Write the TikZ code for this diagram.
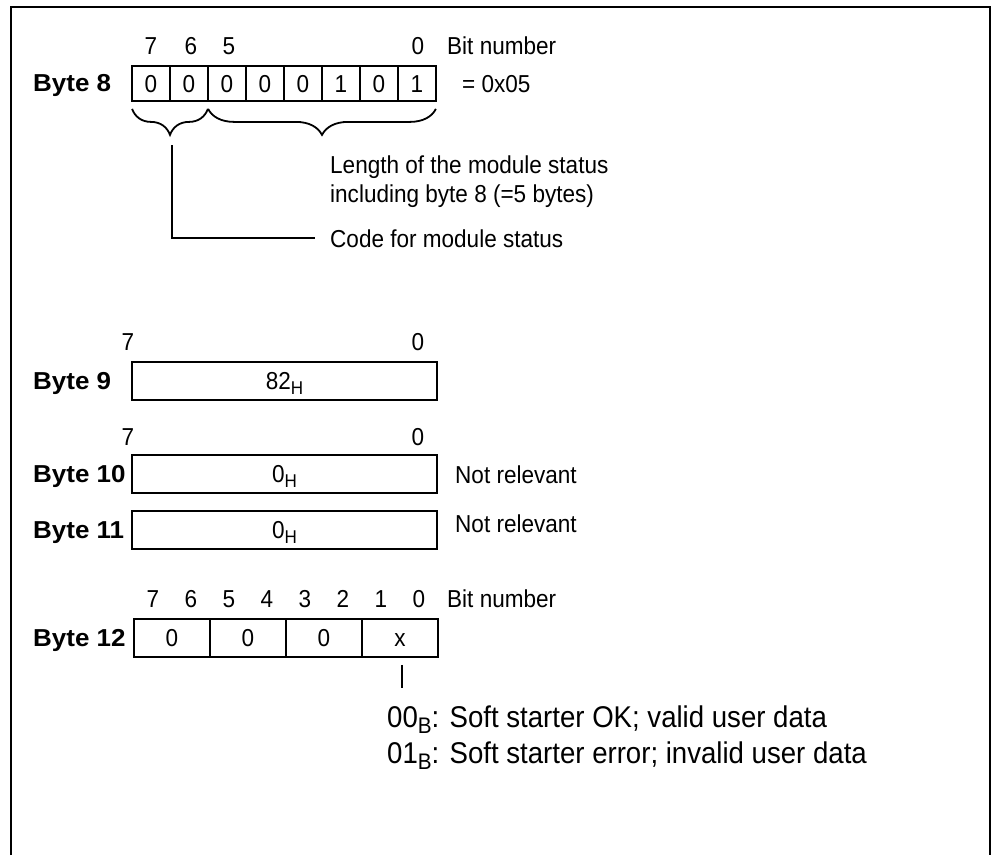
\documentclass[tikz,border=0pt]{standalone}
\usepackage{fontspec}
\setmainfont{Liberation Sans}[FakeStretch=0.92, BoldFeatures={FakeStretch=1.06}]
\usetikzlibrary{decorations.pathreplacing}
\newcommand\subsmall[1]{\raisebox{-5pt}{\fontsize{18.5}{20}\selectfont #1}}
\newcommand\subbig[1]{\raisebox{-6pt}{\fontsize{22.5}{24}\selectfont #1}}
\begin{document}
\begin{tikzpicture}[x=1pt,y=-1pt,
  every node/.style={font=\fontsize{24.5}{29}\selectfont, inner sep=0pt},
  frameline/.style={line width=2.2pt},
  cell/.style={draw, line width=1.8pt, minimum width=38pt, minimum height=35pt, text height=17.5pt, text depth=0pt},
  wbox/.style={draw, line width=1.8pt, minimum width=305pt, minimum height=38pt, text height=17.5pt, text depth=0pt},
  hcell/.style={draw, line width=1.8pt, minimum width=76pt, minimum height=38pt, text height=17.5pt, text depth=0pt},
  bitno/.style={anchor=base},
  bytelbl/.style={anchor=base west, font=\fontsize{24.5}{29}\selectfont\bfseries},
  txt/.style={anchor=base west},
  bigtxt/.style={anchor=base west, font=\fontsize{30}{36}\selectfont},
  conn/.style={line width=1.8pt},
  bracedeco/.style={decorate, line width=1.8pt, decoration={brace, mirror, amplitude=26pt}}
]
\useasboundingbox (0,0) rectangle (993,855);
% frame
\draw[frameline] (11,855) -- (11,7) -- (990,7) -- (990,855);

% ---------- Byte 8 ----------
\node[bitno] (b8n7) at (151,54) {7};
\node[bitno] (b8n6) at (191,54) {6};
\node[bitno] (b8n5) at (229,54) {5};
\node[bitno] (b8n0) at (418,54) {0};
\node[txt] (b8bit) at (447,54) {Bit number};
\node[bytelbl] (b8lbl) at (33,91) {Byte 8};
\foreach \v [count=\i from 0] in {0,0,0,0,0,1,0,1}
  \node[cell] (b8c\i) at ({151+38*\i},83.5) {\v};
\node[txt] (b8val) at (462,92) {= 0x05};
\draw[bracedeco] ([xshift=1pt,yshift=-7pt]b8c0.south west) -- ([xshift=-1pt,yshift=-7pt]b8c1.south east);
\draw[bracedeco] ([xshift=1pt,yshift=-7pt]b8c2.south west) -- ([xshift=-1pt,yshift=-7pt]b8c7.south east);
\node[txt] (lentxt) at (330,173) {Length of the module status};
\node[txt] (inctxt) at (330,202) {including byte 8 (=5 bytes)};
\node[txt] (codetxt) at (330,247) {Code for module status};
\coordinate (codestart) at (172,145);
\draw[conn] (codestart) |- ([xshift=-15pt]codetxt.west);

% ---------- Byte 9 ----------
\node[bitno] (b9n7) at (128,350) {7};
\node[bitno] (b9n0) at (418,350) {0};
\node[bytelbl] (b9lbl) at (33,389) {Byte 9};
\node[wbox] (b9) at (284.5,381) {82\subsmall{H}};

% ---------- Byte 10 ----------
\node[bitno] (b10n7) at (128,445) {7};
\node[bitno] (b10n0) at (418,445) {0};
\node[bytelbl] (b10lbl) at (33,482) {Byte 10};
\node[wbox] (b10) at (284.5,474) {0\subsmall{H}};
\node[txt] (b10txt) at (455,483) {Not relevant};

% ---------- Byte 11 ----------
\node[bytelbl] (b11lbl) at (33,538) {Byte 11};
\node[wbox] (b11) at (284.5,530) {0\subsmall{H}};
\node[txt] (b11txt) at (455,532) {Not relevant};

% ---------- Byte 12 ----------
\foreach \n [count=\i from 0] in {7,6,5,4,3,2,1,0}
  \node[bitno] (b12n\n) at ({153+38*\i},607) {\n};
\node[txt] (b12bit) at (447,607) {Bit number};
\node[bytelbl] (b12lbl) at (33,646) {Byte 12};
\node[hcell] (b12a) at (172,638) {0};
\node[hcell] (b12b) at (248,638) {0};
\node[hcell] (b12c) at (324,638) {0};
\node[hcell] (b12d) at (400,638) {x};
\coordinate (xtop) at ([xshift=2pt,yshift=-7pt]b12d.south);
\coordinate (xbot) at ([xshift=2pt,yshift=-30pt]b12d.south);
\draw[conn] (xtop) -- (xbot);
\node[bigtxt] (ok) at (387,727) {00\subbig{B}: Soft starter OK; valid user data};
\node[bigtxt] (err) at (387,763) {01\subbig{B}: Soft starter error; invalid user data};
\end{tikzpicture}
\end{document}
